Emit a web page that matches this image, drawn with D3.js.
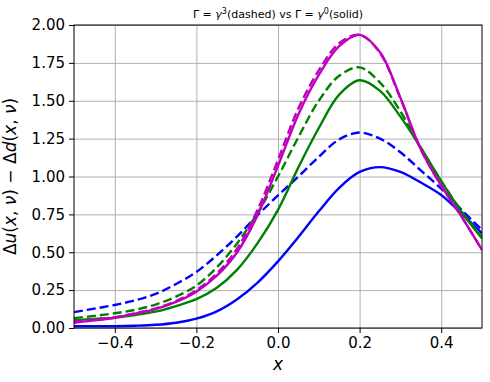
<!DOCTYPE html>
<html>
<head>
<meta charset="utf-8">
<script src="https://cdn.jsdelivr.net/npm/d3@7"></script>
<style>
  body { margin: 0; background: #fff; }
  svg { display: block; font-family: 'DejaVu Sans', sans-serif; }
</style>
</head>
<body>
<svg id="chart" width="490" height="382"></svg>
<script>
// x grid shared by all curves
const xs = [-0.5, -0.45, -0.4, -0.35, -0.3, -0.25, -0.2, -0.15, -0.1, -0.05, 0,
            0.05, 0.1, 0.15, 0.2, 0.25, 0.3, 0.35, 0.4, 0.45, 0.5];

// Gamma = gamma^0 (solid)
const blueSolid = [0.012, 0.012, 0.012, 0.015, 0.021, 0.035, 0.062, 0.11, 0.19, 0.30, 0.44,
                   0.60, 0.77, 0.925, 1.03, 1.062, 1.03, 0.96, 0.878, 0.755, 0.625];
const greenSolid = [0.052, 0.06, 0.068, 0.086, 0.108, 0.145, 0.19, 0.265, 0.385, 0.56, 0.78,
                    1.06, 1.32, 1.54, 1.635, 1.565, 1.395, 1.19, 0.97, 0.765, 0.59];
const magentaSolid = [0.035, 0.05, 0.068, 0.095, 0.125, 0.172, 0.24, 0.345, 0.50, 0.745, 1.07,
                      1.41, 1.67, 1.86, 1.935, 1.82, 1.52, 1.18, 0.94, 0.735, 0.515];

// Gamma = gamma^3 (dashed)
const blueDashed = [0.105, 0.128, 0.152, 0.183, 0.225, 0.29, 0.37, 0.48, 0.605, 0.745, 0.875,
                    1.0, 1.13, 1.245, 1.29, 1.25, 1.16, 1.04, 0.92, 0.78, 0.647];
const greenDashed = [0.065, 0.08, 0.097, 0.12, 0.155, 0.207, 0.28, 0.40, 0.56, 0.76, 1.0,
                     1.26, 1.50, 1.665, 1.72, 1.62, 1.43, 1.19, 0.97, 0.77, 0.60];
const magentaDashed = [0.042, 0.055, 0.072, 0.098, 0.13, 0.178, 0.25, 0.36, 0.525, 0.78, 1.11,
                       1.45, 1.70, 1.88, 1.935, 1.815, 1.515, 1.18, 0.94, 0.735, 0.515];

const xTicks = [-0.4, -0.2, 0.0, 0.2, 0.4];
const yTicks = [0, 0.25, 0.5, 0.75, 1.0, 1.25, 1.5, 1.75, 2.0];

const series = [
  { values: blueSolid, color: '#0000ff', dashed: false },
  { values: blueDashed, color: '#0000ff', dashed: true },
  { values: greenSolid, color: '#008000', dashed: false },
  { values: greenDashed, color: '#008000', dashed: true },
  { values: magentaSolid, color: '#bf00bf', dashed: false },
  { values: magentaDashed, color: '#bf00bf', dashed: true }
];

const width = 490, height = 382;
const margin = { top: 25, right: 8, bottom: 54, left: 74 };
const innerWidth = width - margin.left - margin.right;
const innerHeight = height - margin.top - margin.bottom;

const svg = d3.select('#chart');

const x = d3.scaleLinear().domain([-0.5, 0.5]).range([0, innerWidth]);
const y = d3.scaleLinear().domain([0, 2]).range([innerHeight, 0]);

const g = svg.append('g').attr('transform', `translate(${margin.left},${margin.top})`);

g.append('defs').append('clipPath').attr('id', 'clip')
  .append('rect').attr('width', innerWidth).attr('height', innerHeight);

// grid
g.append('g')
  .attr('transform', `translate(0,${innerHeight})`)
  .call(d3.axisBottom(x).tickValues(xTicks).tickSize(-innerHeight).tickFormat(''))
  .call(a => a.select('.domain').remove())
  .selectAll('line').attr('stroke', '#b0b0b0').attr('stroke-width', 1);

g.append('g')
  .call(d3.axisLeft(y).tickValues(yTicks).tickSize(-innerWidth).tickFormat(''))
  .call(a => a.select('.domain').remove())
  .selectAll('line').attr('stroke', '#b0b0b0').attr('stroke-width', 1);

// curves
const line = d3.line()
  .x((d, i) => x(xs[i]))
  .y(d => y(d))
  .curve(d3.curveCatmullRom.alpha(0.5));

g.append('g').attr('clip-path', 'url(#clip)')
  .selectAll('path')
  .data(series)
  .enter().append('path')
  .attr('d', d => line(d.values))
  .attr('fill', 'none')
  .attr('stroke', d => d.color)
  .attr('stroke-width', 2.4)
  .attr('stroke-dasharray', d => d.dashed ? '9,4' : null);

// axes
const fmtY = d3.format('.2f');
const fmtX = v => d3.format('.1f')(v).replace('-', '\u2212');

const xAxis = g.append('g')
  .attr('transform', `translate(0,${innerHeight})`)
  .call(d3.axisBottom(x).tickValues(xTicks).tickSize(5).tickPadding(4).tickFormat(fmtX));

const yAxis = g.append('g')
  .call(d3.axisLeft(y).tickValues(yTicks).tickSize(5).tickPadding(4).tickFormat(fmtY));

[xAxis, yAxis].forEach(axis => {
  axis.select('.domain').remove();
  axis.selectAll('line').attr('stroke', '#000').attr('stroke-width', 1);
  axis.selectAll('text')
    .attr('fill', '#000')
    .style('font-size', '15px')
    .style('font-family', "'DejaVu Sans', sans-serif");
});

// frame
g.append('rect')
  .attr('width', innerWidth).attr('height', innerHeight)
  .attr('fill', 'none').attr('stroke', '#000').attr('stroke-width', 1);

// x label
g.append('text')
  .attr('x', innerWidth / 2)
  .attr('y', innerHeight + 42)
  .attr('text-anchor', 'middle')
  .style('font-size', '17px')
  .style('font-style', 'italic')
  .text('x');

// y label: Δu(x, ν) − Δd(x, ν)
const yl = g.append('text')
  .attr('transform', `translate(${-58},${innerHeight / 2}) rotate(-90)`)
  .attr('text-anchor', 'middle')
  .style('font-size', '17px');
[['\u0394', false], ['u', true], ['(', false], ['x', true], [', ', false], ['\u03bd', true],
 [') \u2212 \u0394', false], ['d', true], ['(', false], ['x', true], [', ', false], ['\u03bd', true], [')', false]]
  .forEach(([t, it]) => yl.append('tspan').style('font-style', it ? 'italic' : 'normal').text(t));

// title
const title = svg.append('text')
  .attr('x', margin.left + innerWidth / 2)
  .attr('y', margin.top - 7)
  .attr('text-anchor', 'middle')
  .style('font-size', '11px');
title.append('tspan').text('\u0393 = ');
title.append('tspan').style('font-style', 'italic').text('\u03b3');
title.append('tspan').attr('baseline-shift', '4').style('font-size', '8px').text('3');
title.append('tspan').text('(dashed) vs \u0393 = ');
title.append('tspan').style('font-style', 'italic').text('\u03b3');
title.append('tspan').attr('baseline-shift', '4').style('font-size', '8px').text('0');
title.append('tspan').text('(solid)');
</script>
</body>
</html>
